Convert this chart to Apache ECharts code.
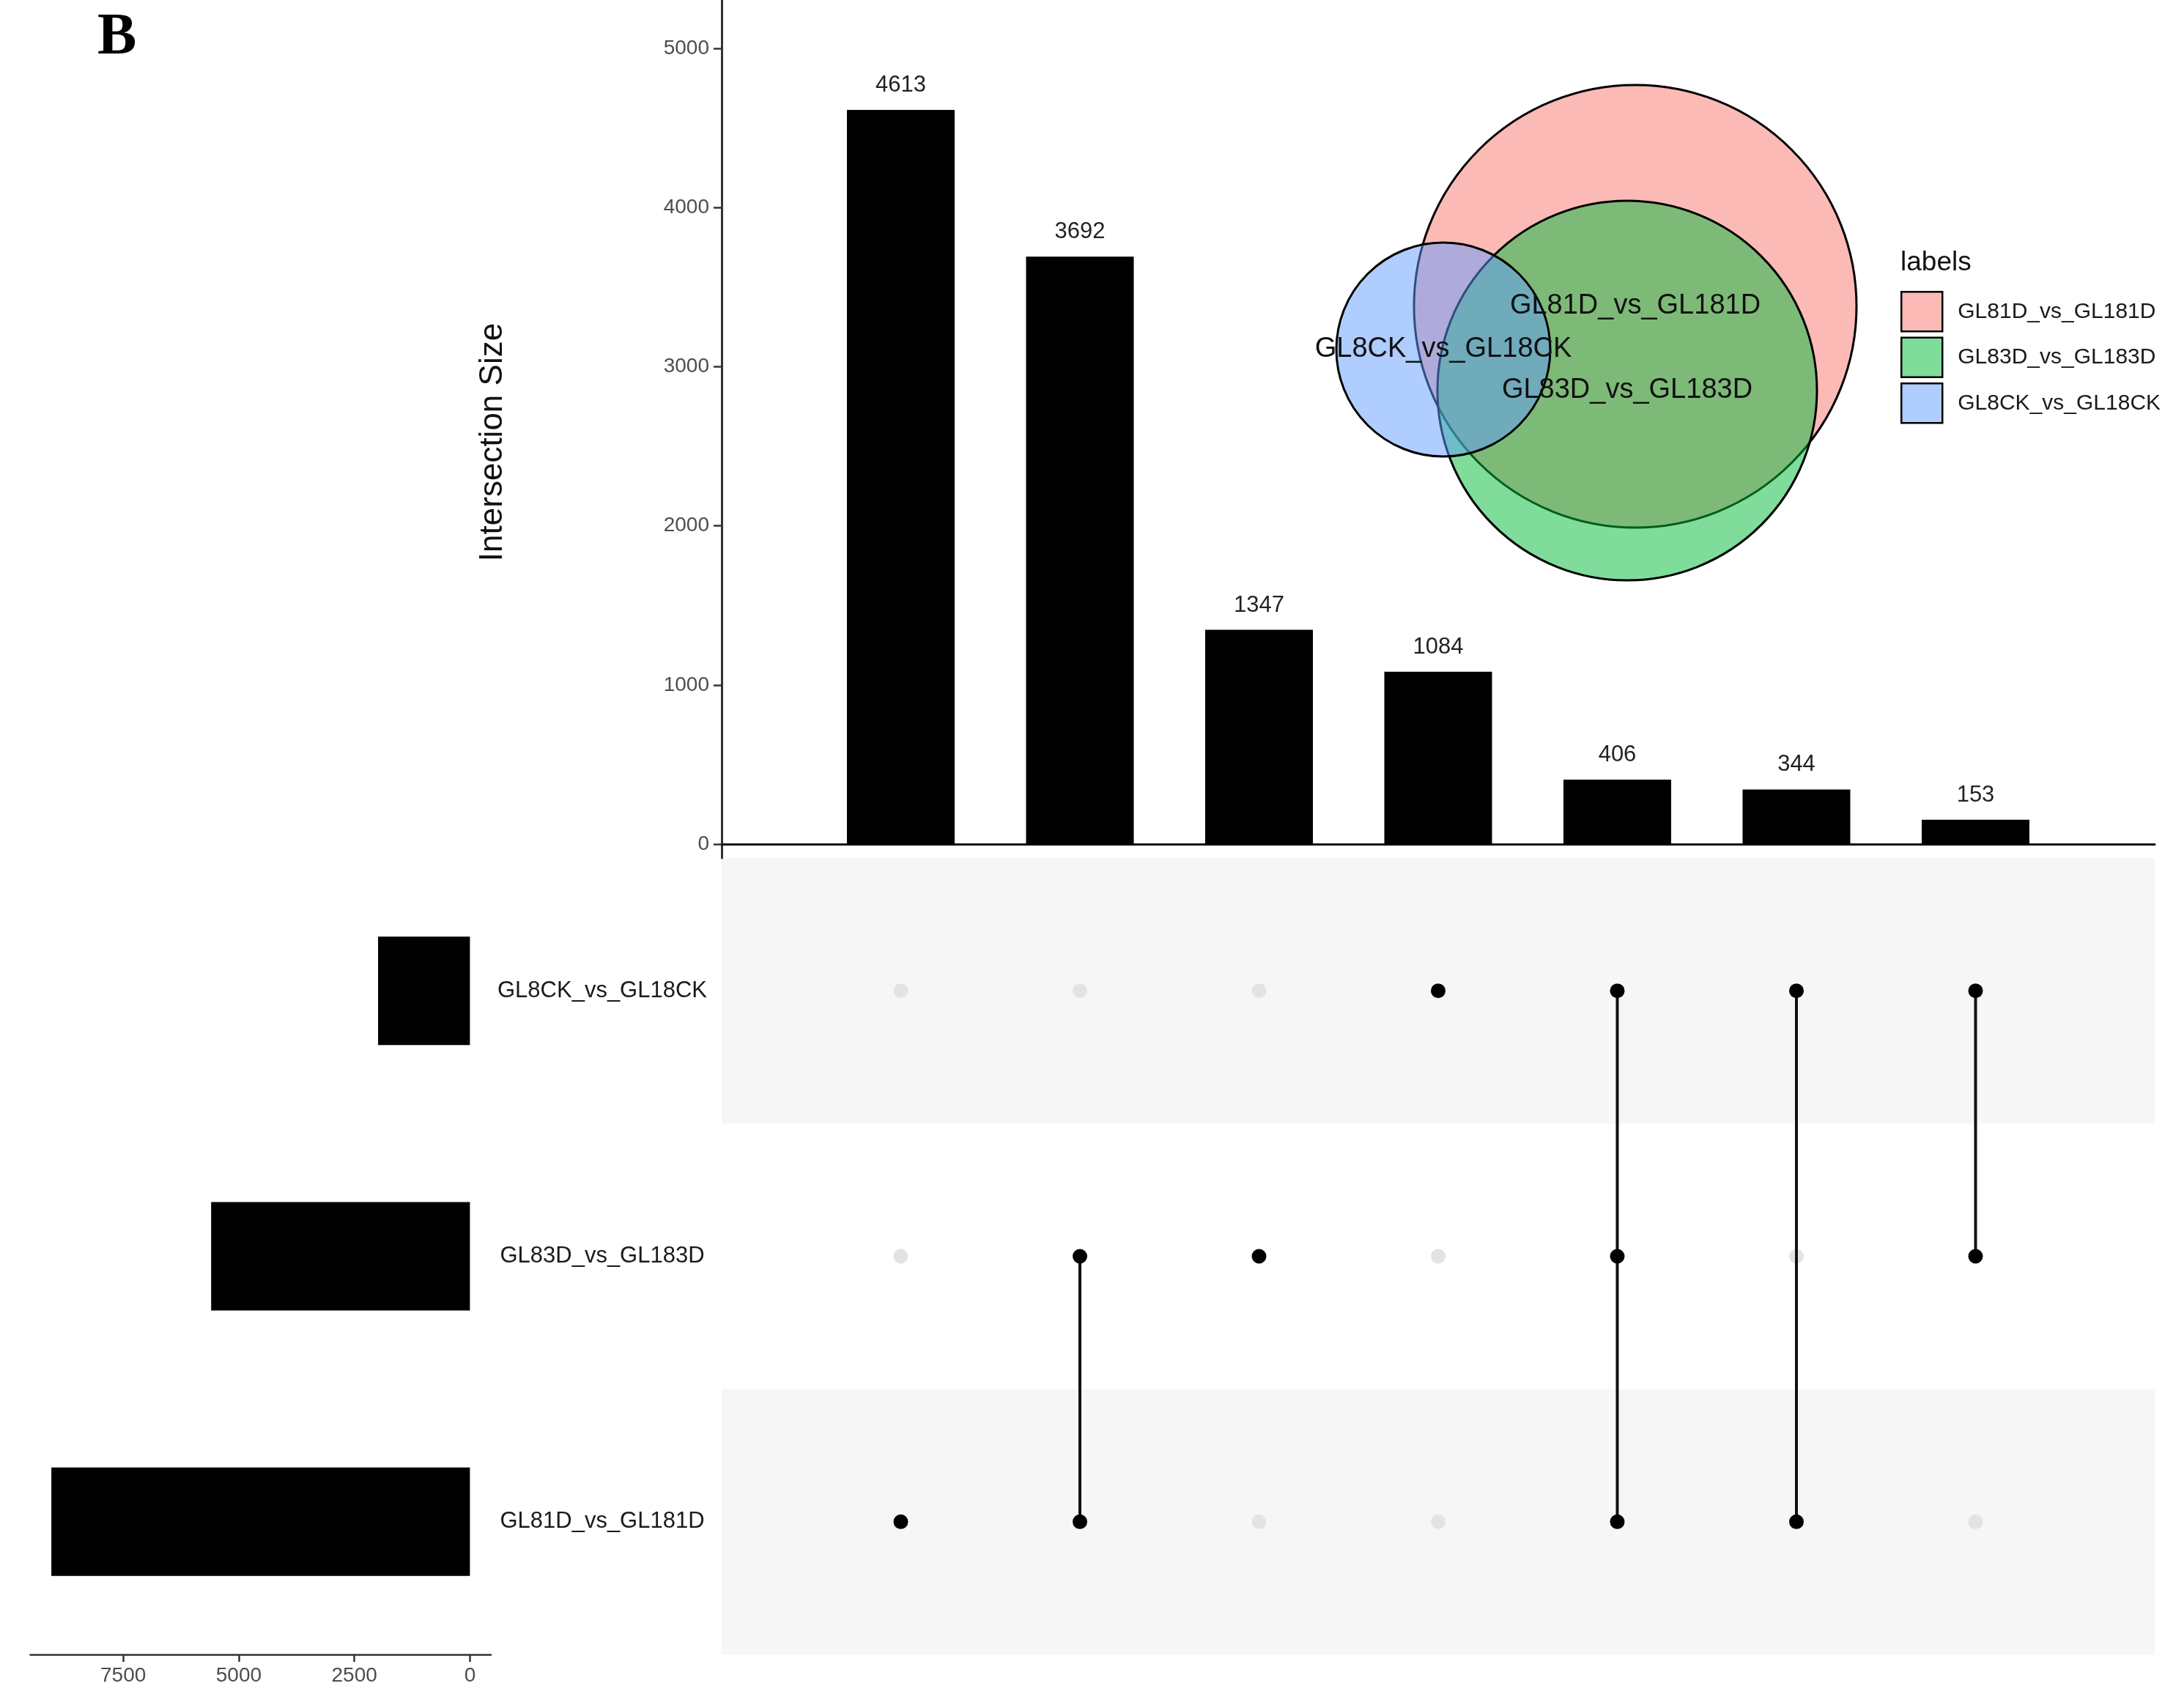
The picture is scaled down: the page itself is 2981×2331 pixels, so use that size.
<!DOCTYPE html>
<html>
<head>
<meta charset="utf-8">
<script src="https://cdn.jsdelivr.net/npm/echarts@6/dist/echarts.min.js"></script>
<style>
html,body{margin:0;padding:0;background:#fff;}
#chart{width:2981px;height:2331px;}
</style>
</head>
<body>
<div id="chart"></div>
<script>
// ---------- data ----------
const setNames = ['GL81D_vs_GL181D', 'GL83D_vs_GL183D', 'GL8CK_vs_GL18CK']; // bottom -> top rows
const setSizes = [9055, 5598, 1987];
const intersectionSizes = [4613, 3692, 1347, 1084, 406, 344, 153];
const intersectionMembers = [[0], [0, 1], [1], [2], [0, 1, 2], [0, 2], [1, 2]];
const barTicks = [0, 1000, 2000, 3000, 4000, 5000];
const setSizeTicks = [0, 2500, 5000, 7500];
// Venn (euler) layout, in venn-panel units
const vennNames = ['GL81D_vs_GL181D', 'GL83D_vs_GL183D', 'GL8CK_vs_GL18CK'];
const vennX = [532, 521, 270];
const vennY = [418, 533, 477];
const vennR = [302, 259, 146];
const vennColors = ['rgba(248,118,109,0.5)', 'rgba(0,186,56,0.5)', 'rgba(97,156,255,0.5)'];

// ---------- derived series data ----------
const barData = intersectionSizes.map((v, i) => [i + 1, v]);
const activeDots = [], inactiveDots = [], connectors = [];
intersectionMembers.forEach((m, i) => {
  for (let r = 0; r < setNames.length; r++) {
    (m.indexOf(r) >= 0 ? activeDots : inactiveDots).push([i + 1, r]);
  }
  if (m.length > 1) connectors.push([i + 1, Math.min(...m), Math.max(...m)]);
});

const FONT = 'Liberation Sans, Arial, Helvetica, sans-serif';
const plain = v => String(v);
const chart = echarts.init(document.getElementById('chart'));

const vennSeries = vennNames.map((n, k) => ({
  type: 'custom', name: n, xAxisIndex: 3, yAxisIndex: 3, z: 2 + k * 0.01,
  itemStyle: { color: vennColors[k] },
  data: [[vennX[k], vennY[k], vennR[k]]],
  renderItem: function (params, api) {
    const c = api.coord([api.value(0), api.value(1)]);
    const r = api.size([api.value(2), 0])[0];
    return { type: 'circle', shape: { cx: c[0], cy: c[1], r: r },
      style: { fill: vennColors[k], stroke: '#000', lineWidth: 3 } };
  }
}));

const option = {
  animation: false,
  backgroundColor: '#fff',
  textStyle: { fontFamily: FONT },
  title: [
    { text: 'B', left: 133, top: 12, padding: 0,
      textStyle: { fontFamily: 'Liberation Serif, Times New Roman, serif', fontWeight: 'bold', fontSize: 80, color: '#000' } },
    { text: 'labels', left: 2594, top: 340, padding: 0,
      textStyle: { fontFamily: FONT, fontWeight: 'normal', fontSize: 37, color: '#111' } }
  ],
  legend: {
    data: vennNames, orient: 'vertical', left: 2594, top: 397, padding: 0,
    itemWidth: 56, itemHeight: 54, itemGap: 6, icon: 'rect',
    itemStyle: { borderColor: '#000', borderWidth: 2.5 },
    textStyle: { fontFamily: FONT, fontSize: 30, color: '#1a1a1a', padding: [0, 0, 0, 16] },
    selectedMode: false
  },
  grid: [
    { left: 985, top: 0, width: 1956, height: 1171, containLabel: false },
    { left: 985, top: 1171, width: 1956, height: 1087, containLabel: false },
    { left: 41.5, top: 1171, width: 628.5, height: 1087, containLabel: false },
    { left: 1700, top: 0, width: 1000, height: 1000, containLabel: false }
  ],
  xAxis: [
    { gridIndex: 0, type: 'value', min: 0, max: 8,
      axisLine: { show: true, onZero: true, lineStyle: { color: '#111', width: 3 } },
      axisTick: { show: false }, axisLabel: { show: false }, splitLine: { show: false } },
    { gridIndex: 1, type: 'value', min: 0, max: 8, show: false },
    { gridIndex: 2, type: 'value', min: -453, max: 9508, inverse: true, position: 'bottom', offset: 0,
      axisLine: { show: true, onZero: false, lineStyle: { color: '#333', width: 2.5 } },
      axisTick: { show: true, customValues: setSizeTicks, length: 10, lineStyle: { color: '#333', width: 2.5 } },
      axisLabel: { show: true, customValues: setSizeTicks, formatter: plain, fontSize: 28, color: '#4d4d4d', margin: 15, fontFamily: FONT },
      splitLine: { show: false } },
    { gridIndex: 3, type: 'value', min: 0, max: 1000, show: false }
  ],
  yAxis: [
    { gridIndex: 0, type: 'value', min: -87, max: 5304,
      axisLine: { show: true, onZero: false, lineStyle: { color: '#333', width: 3 } },
      axisTick: { show: true, customValues: barTicks, length: 11, lineStyle: { color: '#333', width: 2.5 } },
      axisLabel: { show: true, customValues: barTicks, formatter: plain, fontSize: 28, color: '#4d4d4d', margin: 17, fontFamily: FONT },
      splitLine: { show: false },
      name: 'Intersection Size', nameLocation: 'middle', nameGap: 290,
      nameTextStyle: { fontSize: 44, color: '#111', fontFamily: FONT, padding: [0, 36, 0, 0] } },
    { gridIndex: 1, type: 'category', data: setNames,
      axisLine: { show: false }, axisTick: { show: false },
      axisLabel: { show: true, fontSize: 31, color: '#1a1a1a', align: 'center', margin: 163, fontFamily: FONT },
      splitLine: { show: false },
      splitArea: { show: true, areaStyle: { color: ['#f6f6f6', '#ffffff'] } } },
    { gridIndex: 2, type: 'category', data: setNames, show: false },
    { gridIndex: 3, type: 'value', min: 0, max: 1000, inverse: true, show: false }
  ],
  series: [
    { type: 'bar', xAxisIndex: 0, yAxisIndex: 0, data: barData, barWidth: 147,
      itemStyle: { color: '#000' },
      label: { show: true, position: 'top', distance: 18, fontSize: 31, color: '#222', fontFamily: FONT,
        formatter: p => String(p.value[1]) } },
    { type: 'scatter', xAxisIndex: 1, yAxisIndex: 1, data: inactiveDots, symbolSize: 20,
      itemStyle: { color: '#e3e3e3', opacity: 1 }, z: 2 },
    { type: 'custom', xAxisIndex: 1, yAxisIndex: 1, data: connectors, z: 3,
      encode: { x: 0, y: [1, 2] },
      renderItem: function (params, api) {
        const p1 = api.coord([api.value(0), api.value(1)]);
        const p2 = api.coord([api.value(0), api.value(2)]);
        return { type: 'line', shape: { x1: p1[0], y1: p1[1], x2: p2[0], y2: p2[1] },
          style: { stroke: '#111', lineWidth: 4 } };
      } },
    { type: 'scatter', xAxisIndex: 1, yAxisIndex: 1, data: activeDots, symbolSize: 20,
      itemStyle: { color: '#000', opacity: 1 }, z: 4 },
    { type: 'bar', xAxisIndex: 2, yAxisIndex: 2, data: setSizes, barWidth: 148,
      itemStyle: { color: '#000' } },
    ...vennSeries,
    { type: 'custom', xAxisIndex: 3, yAxisIndex: 3, z: 10,
      data: vennNames.map((n, k) => [vennX[k], vennY[k], k]),
      renderItem: function (params, api) {
        const c = api.coord([api.value(0), api.value(1)]);
        return { type: 'text', style: { text: vennNames[api.value(2)], x: c[0], y: c[1],
          align: 'center', verticalAlign: 'middle', fontSize: 38, fontFamily: FONT, fill: '#111' } };
      } }
  ]
};
chart.setOption(option);
</script>
</body>
</html>
